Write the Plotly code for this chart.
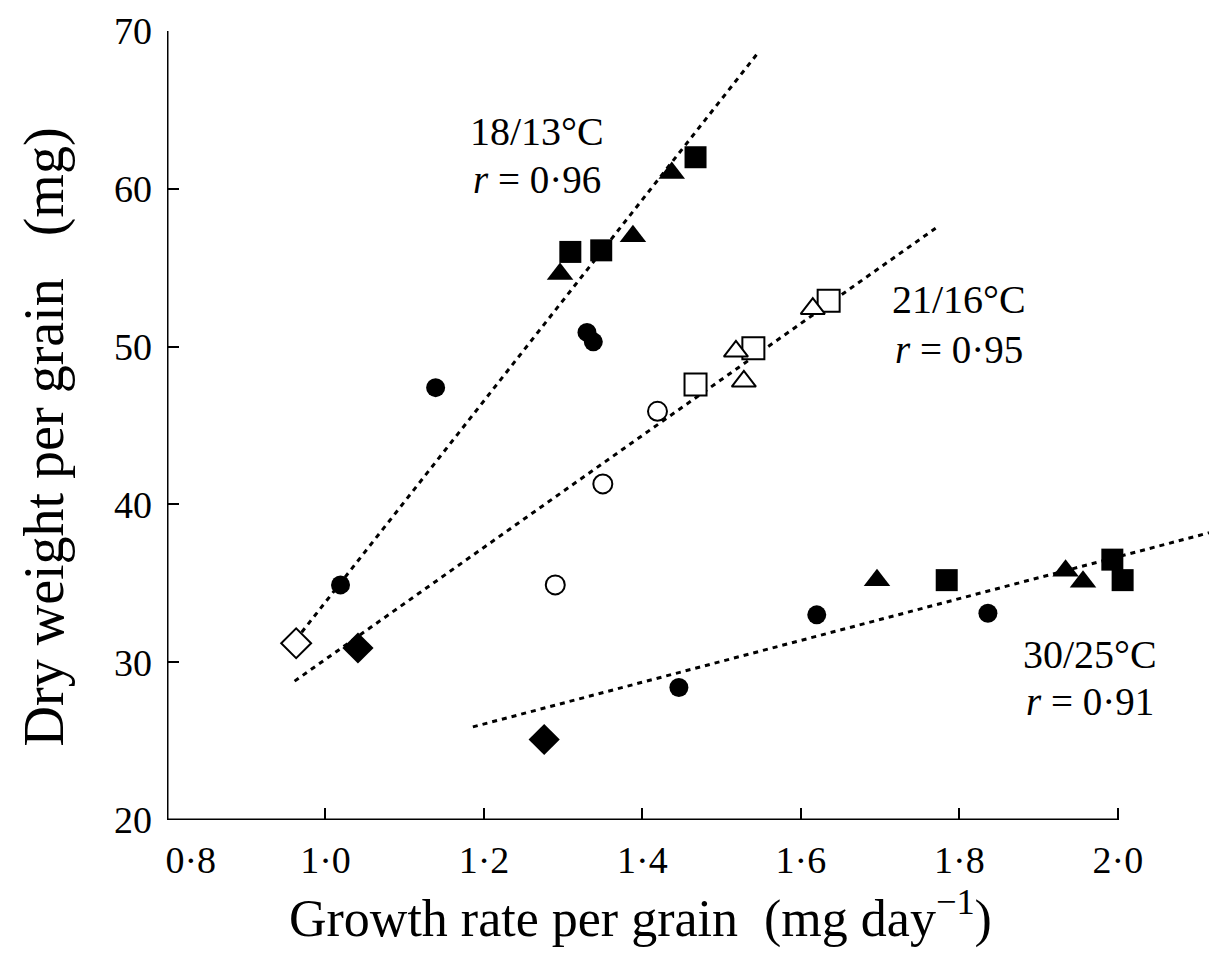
import plotly.graph_objects as go

# ---- data ----
fc_x = [1.019, 1.139, 1.330, 1.338, 1.446, 1.620, 1.836]   # filled circles
fc_y = [34.9, 47.4, 50.9, 50.3, 28.4, 33.0, 33.1]
ft_x = [1.296, 1.388, 1.437, 1.696, 1.934, 1.956]          # filled triangles
ft_y = [54.6, 57.0, 61.0, 35.2, 35.8, 35.1]
fs_x = [1.309, 1.348, 1.467, 1.784, 1.993, 2.006]          # filled squares
fs_y = [56.0, 56.1, 62.0, 35.2, 36.5, 35.2]
fd_x = [1.041, 1.276]                                      # filled diamonds
fd_y = [30.9, 25.1]
od_x = [0.963]                                             # open diamond
od_y = [31.2]
oc_x = [1.290, 1.350, 1.419]                               # open circles
oc_y = [34.9, 41.3, 45.9]
os_x = [1.467, 1.540, 1.635]                               # open squares
os_y = [47.6, 49.9, 52.9]
ot_x = [1.518, 1.528, 1.615]                               # open triangles
ot_y = [49.7, 47.8, 52.4]

# regression lines (end points)
l1_x = [0.970, 1.544]; l1_y = [31.9, 68.5]   # 18/13
l2_x = [0.961, 1.770]; l2_y = [28.8, 57.5]   # 21/16
l3_x = [1.186, 2.115]; l3_y = [25.9, 38.2]   # 30/25

x_ticks = [0.8, 1.0, 1.2, 1.4, 1.6, 1.8, 2.0]
x_tick_text = ["\u00a0\u00a0\u00a0\u00a0\u00a00·8", "1·0", "1·2", "1·4", "1·6", "1·8", "2·0"]
y_ticks = [20, 30, 40, 50, 60, 70]

labels = [
    ("18/13°C", "<i>r</i> = 0·96", 1.267, 63.6, 60.6),
    ("21/16°C", "<i>r</i> = 0·95", 1.80, 53.0, 49.8),
    ("30/25°C", "<i>r</i> = 0·91", 1.965, 30.5, 27.5),
]

SERIF = "Liberation Serif, Times New Roman, serif"

fig = go.Figure()

for lx, ly in [(l1_x, l1_y), (l2_x, l2_y), (l3_x, l3_y)]:
    fig.add_trace(go.Scatter(x=lx, y=ly, mode="lines",
                             line=dict(color="black", width=3, dash="5px,5px"),
                             showlegend=False, hoverinfo="skip"))

def pts(x, y, symbol, size, filled=True):
    fig.add_trace(go.Scatter(
        x=x, y=y, mode="markers", showlegend=False,
        marker=dict(symbol=symbol, size=size,
                    color="black" if filled else "white",
                    line=dict(color="black", width=0 if filled else 2))))

pts(fc_x, fc_y, "circle", 19)
pts(ft_x, ft_y, "triangle-up", 23)
pts(fs_x, fs_y, "square", 22)
pts(fd_x, fd_y, "diamond", 24)
pts(od_x, od_y, "diamond", 23, False)
pts(oc_x, oc_y, "circle", 19, False)
pts(os_x, os_y, "square", 22, False)
pts(ot_x, ot_y, "triangle-up", 21, False)

for t1, t2, x, y1, y2 in labels:
    fig.add_annotation(x=x, y=y1, text=t1, showarrow=False,
                       font=dict(family=SERIF, size=40, color="black"))
    fig.add_annotation(x=x, y=y2, text=t2, showarrow=False,
                       font=dict(family=SERIF, size=39, color="black"))

# axis lines
fig.add_shape(type="line", xref="x", yref="y", x0=x_ticks[0], x1=x_ticks[0],
              y0=y_ticks[0], y1=y_ticks[-1], line=dict(color="black", width=3))
fig.add_shape(type="line", xref="x", yref="y", x0=x_ticks[0], x1=x_ticks[-1],
              y0=y_ticks[0], y1=y_ticks[0], line=dict(color="black", width=3))

# axis titles
fig.add_annotation(xref="paper", yref="paper", x=-0.118, y=0.485,
                   xanchor="center", yanchor="middle",
                   text="Dry weight per grain   (mg)", textangle=-90, showarrow=False,
                   font=dict(family=SERIF, size=56, color="black"))
fig.add_annotation(xref="paper", yref="paper", x=0.454, y=-0.12,
                   xanchor="center", yanchor="middle",
                   text="Growth rate per grain  (mg day<sup>−1</sup>)", showarrow=False,
                   font=dict(family=SERIF, size=52, color="black"))

fig.update_layout(
    width=1209, height=961,
    margin=dict(l=167, r=0, t=31, b=141),
    paper_bgcolor="white", plot_bgcolor="white",
    showlegend=False,
)
fig.update_xaxes(range=[0.8, 2.115], tickvals=x_ticks, ticktext=x_tick_text,
                 ticks="inside", ticklen=12, tickwidth=2, tickcolor="black",
                 showgrid=False, zeroline=False, showline=False,
                 ticklabelstandoff=14,
                 tickfont=dict(family=SERIF, size=38, color="black"))
fig.update_yaxes(range=[20, 70], tickvals=y_ticks,
                 ticks="inside", ticklen=12, tickwidth=2, tickcolor="black",
                 showgrid=False, zeroline=False, showline=False,
                 ticklabelstandoff=14,
                 tickfont=dict(family=SERIF, size=38, color="black"))

fig.write_html("out.html", config={"displayModeBar": False},
               post_script="document.body.style.margin='0px';")
